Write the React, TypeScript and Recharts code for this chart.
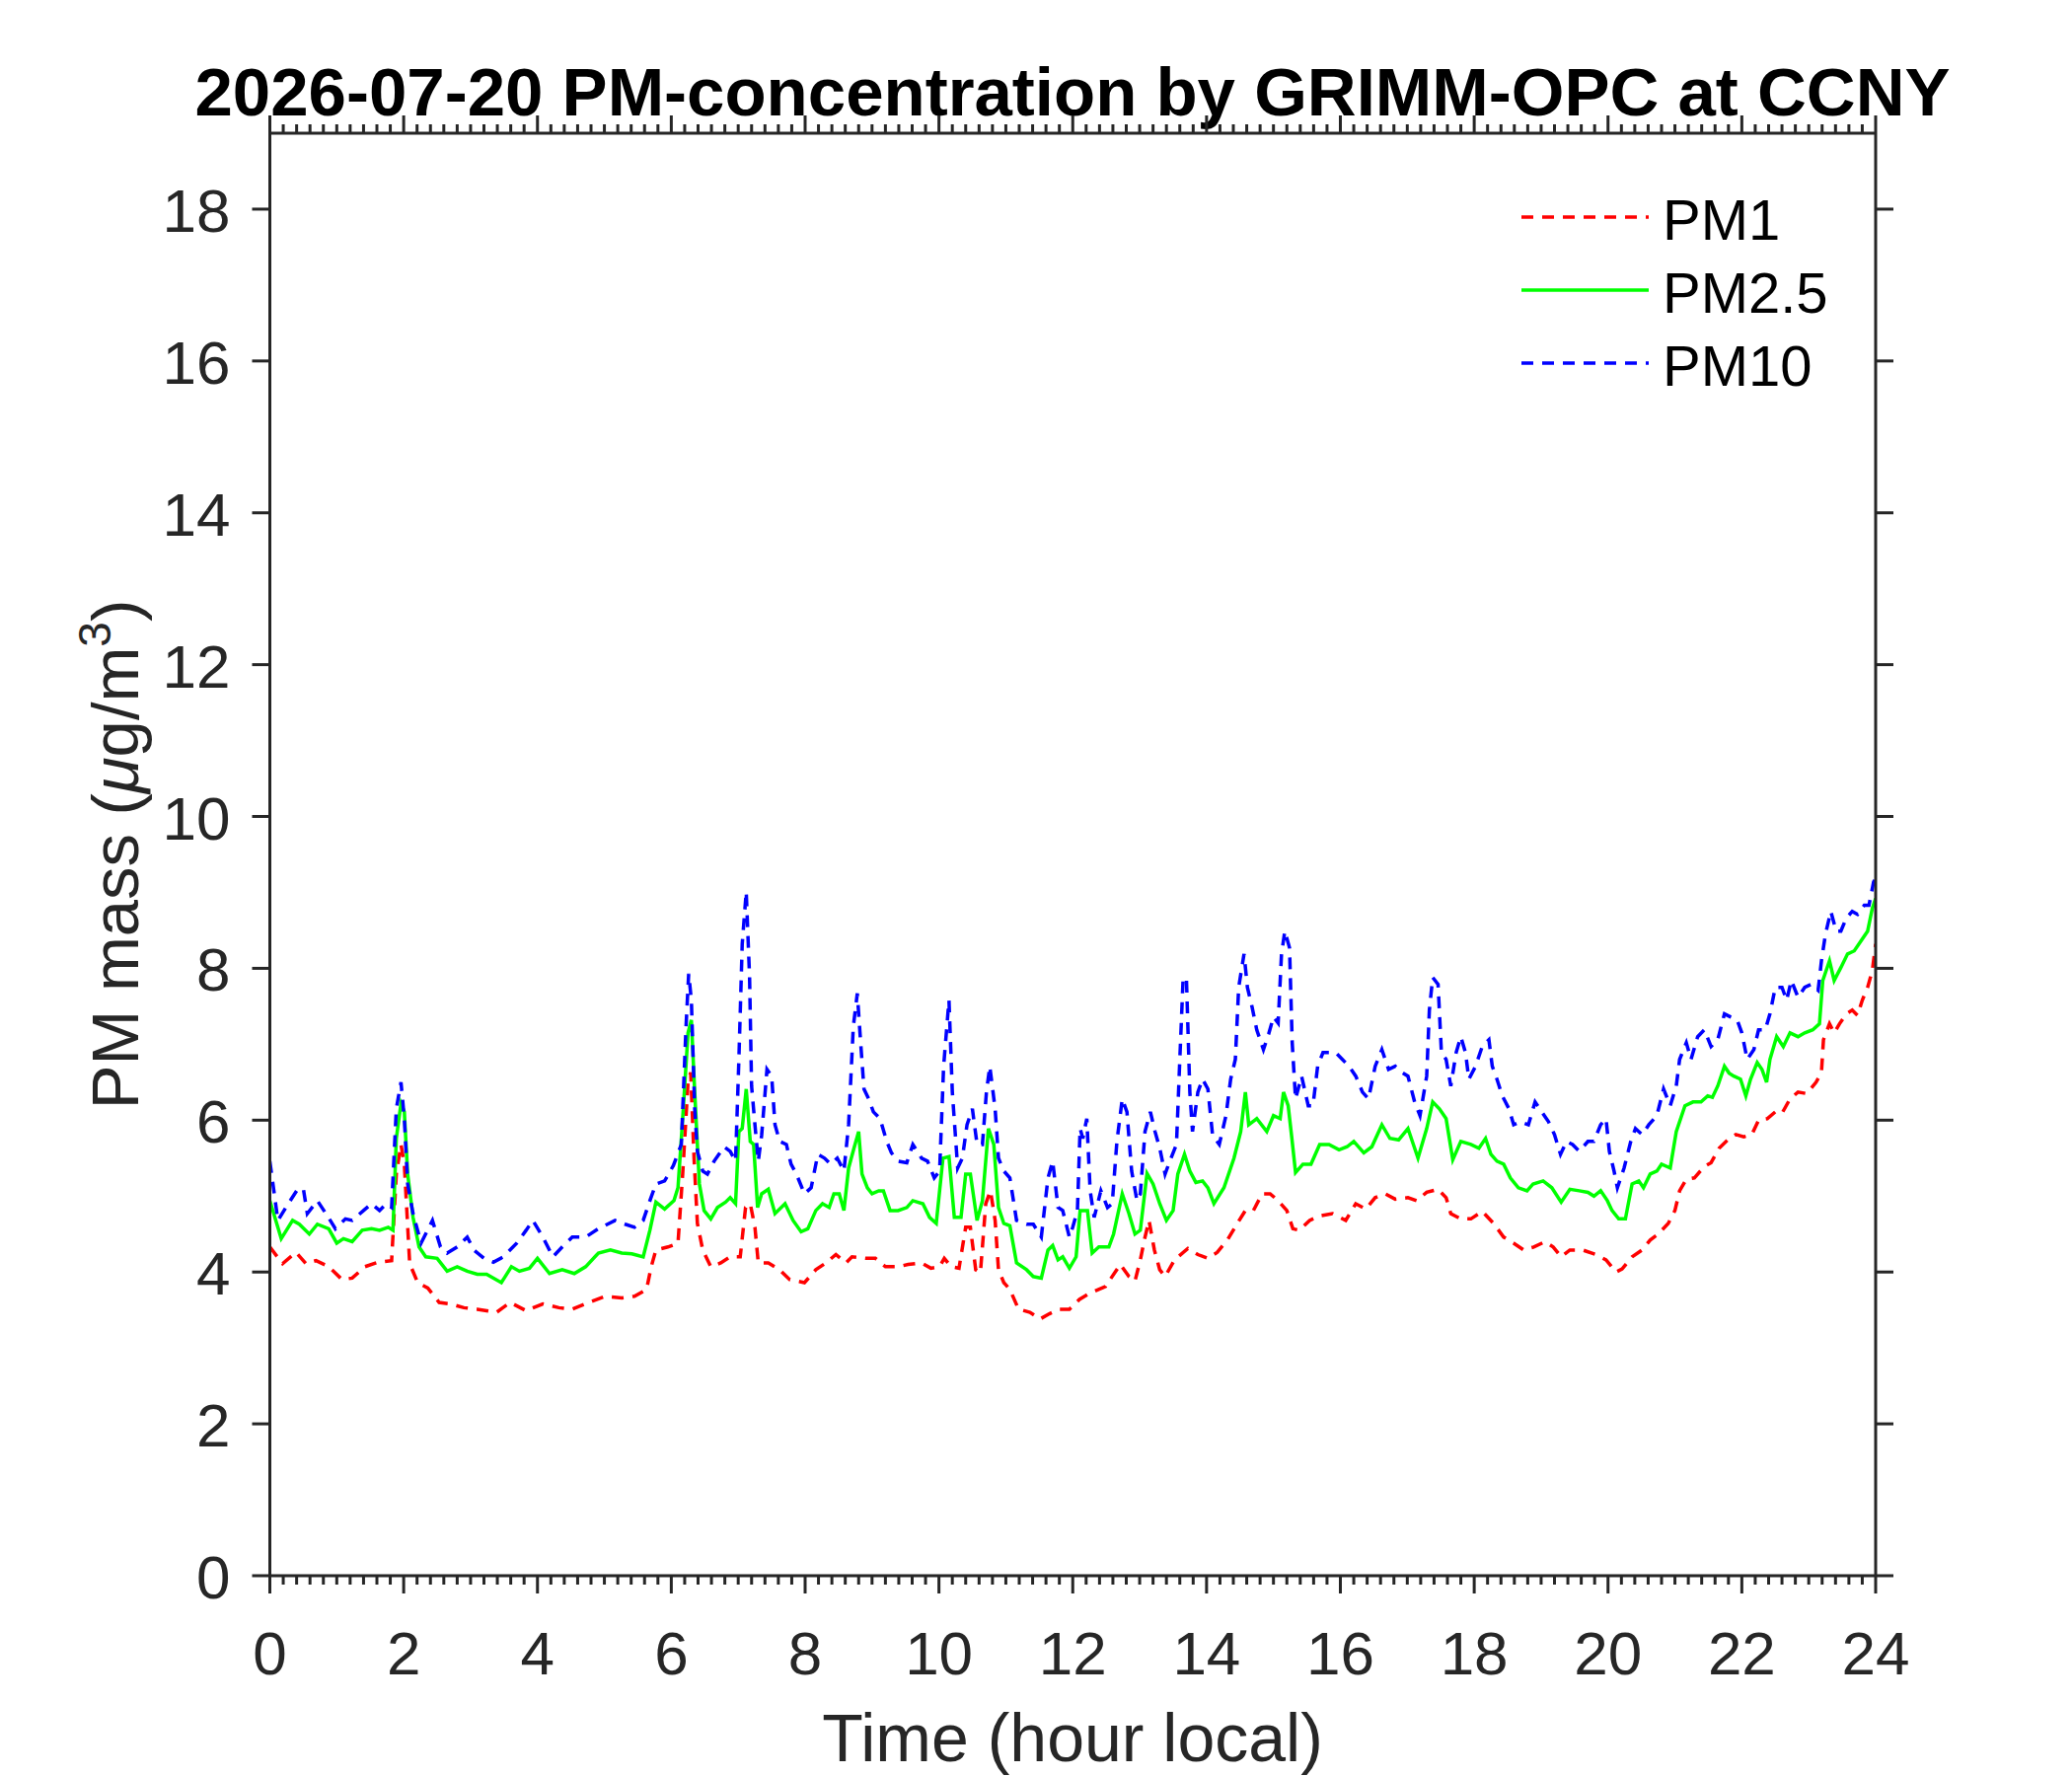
import { LineChart, Line, XAxis, YAxis, Legend, Customized } from 'recharts'

document.body.style.margin = '0'

const FONT = '"Liberation Sans", Arial, Helvetica, sans-serif'
const AXIS = '#262626'

const chartTitle = '2026-07-20 PM-concentration by GRIMM-OPC at CCNY'
const hourTicks = [0, 2, 4, 6, 8, 10, 12, 14, 16, 18, 20, 22, 24]
const massTicks = [0, 2, 4, 6, 8, 10, 12, 14, 16, 18]

const pm1Hours = [
    0, 0.19, 0.39, 0.54, 0.69, 0.88, 1.08, 1.23, 1.42, 1.62, 1.82, 1.89, 1.96, 2.01, 2.09, 2.21, 2.36, 2.53, 2.7, 2.9,
    3.1, 3.39, 3.59, 3.83, 4.08, 4.32, 4.52, 4.77, 5.01, 5.26, 5.45, 5.63, 5.7, 5.77, 5.95, 6.1, 6.17, 6.25, 6.29, 6.34,
    6.39, 6.47, 6.59, 6.74, 6.88, 7.03, 7.11, 7.18, 7.25, 7.3, 7.45, 7.62, 7.77, 7.99, 8.16, 8.31, 8.46, 8.61, 8.7, 8.9,
    9.05, 9.2, 9.39, 9.54, 9.74, 9.88, 10.01, 10.08, 10.18, 10.3, 10.4, 10.47, 10.55, 10.62, 10.7, 10.77, 10.84, 10.89, 10.97, 11.06,
    11.19, 11.36, 11.51, 11.65, 11.8, 11.95, 12.1, 12.25, 12.49, 12.71, 12.84, 12.93, 13.01, 13.08, 13.14, 13.22, 13.3, 13.38, 13.52, 13.72,
    13.87, 14.02, 14.16, 14.31, 14.46, 14.58, 14.7, 14.83, 14.95, 15.07, 15.2, 15.29, 15.39, 15.54, 15.69, 15.88, 16.08, 16.23, 16.38, 16.52,
    16.67, 16.82, 17.01, 17.14, 17.29, 17.46, 17.58, 17.65, 17.8, 17.95, 18.12, 18.29, 18.44, 18.59, 18.74, 18.89, 19.06, 19.18, 19.3, 19.43,
    19.62, 19.82, 19.97, 20.12, 20.21, 20.36, 20.51, 20.63, 20.75, 20.9, 21.0, 21.07, 21.17, 21.29, 21.44, 21.54, 21.66, 21.79, 21.91, 22.03,
    22.15, 22.25, 22.38, 22.5, 22.6, 22.72, 22.84, 22.97, 23.11, 23.19, 23.22, 23.31, 23.38, 23.46, 23.56, 23.65, 23.73, 23.8, 23.88, 23.95,
    24.0
]
const pm1Values = [
    4.33, 4.11, 4.26, 4.11, 4.15, 4.07, 3.9, 3.92, 4.07, 4.13, 4.15, 5.29, 5.68, 5.42, 4.11, 3.86, 3.79, 3.6, 3.58, 3.53,
    3.51, 3.47, 3.6, 3.49, 3.58, 3.53, 3.51, 3.6, 3.68, 3.66, 3.68, 3.77, 4.07, 4.29, 4.33, 4.38, 5.29, 6.5, 6.63, 5.5,
    4.64, 4.29, 4.07, 4.12, 4.2, 4.2, 4.85, 4.9, 4.59, 4.12, 4.12, 4.03, 3.9, 3.86, 4.03, 4.12, 4.23, 4.12, 4.2, 4.18,
    4.18, 4.07, 4.07, 4.1, 4.12, 4.05, 4.07, 4.18, 4.07, 4.05, 4.59, 4.59, 4.03, 3.99, 4.9, 5.07, 4.68, 4.03, 3.86, 3.77,
    3.51, 3.47, 3.38, 3.45, 3.51, 3.51, 3.64, 3.72, 3.81, 4.1, 3.94, 3.88, 4.16, 4.46, 4.68, 4.29, 4.03, 3.94, 4.16, 4.31,
    4.23, 4.18, 4.26, 4.42, 4.64, 4.81, 4.81, 5.03, 5.03, 4.94, 4.81, 4.57, 4.55, 4.68, 4.74, 4.77, 4.68, 4.9, 4.83, 4.98,
    5.03, 4.96, 4.98, 4.94, 5.05, 5.09, 4.98, 4.77, 4.7, 4.7, 4.8, 4.64, 4.46, 4.38, 4.29, 4.33, 4.4, 4.33, 4.2, 4.29,
    4.29, 4.23, 4.16, 4.0, 4.04, 4.2, 4.29, 4.42, 4.5, 4.64, 4.81, 5.07, 5.22, 5.24, 5.39, 5.44, 5.63, 5.74, 5.81, 5.78,
    5.81, 6.0, 6.02, 6.11, 6.09, 6.28, 6.37, 6.35, 6.5, 6.63, 7.06, 7.27, 7.15, 7.27, 7.4, 7.45, 7.38, 7.58, 7.75, 7.97,
    8.32
]

const pm25Hours = [
    0, 0.17, 0.34, 0.44, 0.59, 0.71, 0.88, 1.0, 1.1, 1.23, 1.38, 1.52, 1.64, 1.77, 1.84, 1.89, 1.96, 2.01, 2.06, 2.14,
    2.23, 2.33, 2.5, 2.65, 2.8, 2.95, 3.1, 3.24, 3.46, 3.61, 3.73, 3.88, 4.0, 4.18, 4.37, 4.55, 4.72, 4.91, 5.09, 5.26,
    5.41, 5.58, 5.68, 5.77, 5.9, 6.04, 6.1, 6.17, 6.25, 6.3, 6.35, 6.42, 6.49, 6.59, 6.69, 6.81, 6.88, 6.96, 7.01, 7.06,
    7.12, 7.18, 7.23, 7.29, 7.35, 7.45, 7.55, 7.7, 7.82, 7.94, 8.04, 8.16, 8.26, 8.36, 8.43, 8.51, 8.58, 8.65, 8.73, 8.8,
    8.85, 8.93, 9.0, 9.1, 9.17, 9.27, 9.39, 9.52, 9.61, 9.76, 9.86, 9.96, 10.06, 10.15, 10.23, 10.33, 10.4, 10.47, 10.57, 10.65,
    10.74, 10.82, 10.89, 10.97, 11.06, 11.16, 11.31, 11.41, 11.53, 11.63, 11.7, 11.78, 11.85, 11.95, 12.05, 12.11, 12.22, 12.29, 12.39, 12.54,
    12.61, 12.74, 12.84, 12.93, 13.01, 13.11, 13.2, 13.3, 13.4, 13.5, 13.57, 13.67, 13.75, 13.84, 13.94, 14.02, 14.11, 14.26, 14.41, 14.51,
    14.58, 14.63, 14.75, 14.9, 15.0, 15.1, 15.15, 15.22, 15.27, 15.33, 15.44, 15.56, 15.69, 15.83, 15.98, 16.1, 16.2, 16.35, 16.47, 16.62,
    16.74, 16.87, 17.01, 17.16, 17.29, 17.38, 17.48, 17.58, 17.68, 17.8, 17.95, 18.07, 18.17, 18.25, 18.34, 18.44, 18.54, 18.66, 18.79, 18.88,
    19.03, 19.16, 19.3, 19.43, 19.57, 19.7, 19.79, 19.89, 19.99, 20.06, 20.16, 20.26, 20.36, 20.46, 20.53, 20.63, 20.73, 20.8, 20.93, 21.02,
    21.15, 21.27, 21.39, 21.49, 21.56, 21.64, 21.74, 21.81, 21.88, 21.98, 22.06, 22.13, 22.23, 22.3, 22.37, 22.42, 22.52, 22.62, 22.72, 22.84,
    22.94, 23.06, 23.16, 23.21, 23.31, 23.38, 23.48, 23.58, 23.68, 23.78, 23.88, 23.95, 24.0
]
const pm25Values = [
    4.94, 4.44, 4.68, 4.63, 4.5, 4.63, 4.57, 4.38, 4.44, 4.4, 4.55, 4.57, 4.55, 4.59, 4.55, 5.76, 6.22, 6.11, 5.29, 4.72,
    4.33, 4.2, 4.18, 4.01, 4.07, 4.01, 3.97, 3.97, 3.86, 4.07, 4.01, 4.05, 4.18, 3.98, 4.03, 3.98, 4.07, 4.25, 4.29, 4.25,
    4.24, 4.2, 4.55, 4.92, 4.83, 4.94, 5.11, 6.02, 7.15, 7.32, 6.37, 5.16, 4.81, 4.7, 4.85, 4.92, 4.98, 4.9, 5.85, 5.89,
    6.41, 5.72, 5.68, 4.85, 5.03, 5.09, 4.77, 4.9, 4.68, 4.53, 4.57, 4.81, 4.9, 4.85, 5.03, 5.03, 4.81, 5.37, 5.63, 5.85,
    5.29, 5.11, 5.03, 5.07, 5.07, 4.81, 4.81, 4.85, 4.94, 4.9, 4.72, 4.64, 5.5, 5.52, 4.72, 4.72, 5.29, 5.29, 4.68, 4.94,
    5.89, 5.68, 4.85, 4.64, 4.61, 4.12, 4.03, 3.94, 3.92, 4.29, 4.35, 4.16, 4.2, 4.05, 4.2, 4.81, 4.81, 4.25, 4.33, 4.33,
    4.5, 5.03, 4.77, 4.5, 4.55, 5.3, 5.16, 4.9, 4.68, 4.81, 5.29, 5.55, 5.33, 5.18, 5.2, 5.11, 4.9, 5.11, 5.5, 5.85,
    6.37, 5.94, 6.02, 5.85, 6.06, 6.02, 6.37, 6.19, 5.8, 5.31, 5.42, 5.42, 5.68, 5.68, 5.61, 5.65, 5.72, 5.57, 5.65, 5.94,
    5.76, 5.74, 5.89, 5.5, 5.89, 6.24, 6.15, 6.02, 5.48, 5.72, 5.68, 5.63, 5.76, 5.55, 5.46, 5.42, 5.24, 5.11, 5.07, 5.16,
    5.2, 5.11, 4.92, 5.09, 5.07, 5.05, 5.0, 5.07, 4.94, 4.81, 4.7, 4.7, 5.16, 5.2, 5.11, 5.29, 5.33, 5.42, 5.37, 5.85,
    6.19, 6.24, 6.24, 6.32, 6.3, 6.45, 6.71, 6.62, 6.58, 6.54, 6.32, 6.54, 6.76, 6.67, 6.5, 6.8, 7.1, 6.97, 7.15, 7.1,
    7.15, 7.19, 7.27, 7.84, 8.1, 7.84, 8.01, 8.19, 8.23, 8.36, 8.49, 8.79, 8.92
]

const pm10Hours = [
    0, 0.12, 0.24, 0.4, 0.5, 0.56, 0.71, 0.86, 0.98, 1.13, 1.23, 1.4, 1.52, 1.64, 1.74, 1.82, 1.89, 1.96, 2.01, 2.06,
    2.14, 2.26, 2.43, 2.55, 2.65, 2.8, 2.95, 3.05, 3.2, 3.34, 3.49, 3.69, 3.83, 3.93, 4.08, 4.23, 4.37, 4.52, 4.72, 4.91,
    5.16, 5.31, 5.45, 5.58, 5.68, 5.77, 5.9, 6.03, 6.15, 6.22, 6.26, 6.3, 6.35, 6.39, 6.47, 6.54, 6.64, 6.79, 6.88, 6.96,
    7.01, 7.06, 7.12, 7.17, 7.2, 7.25, 7.3, 7.35, 7.43, 7.5, 7.55, 7.62, 7.72, 7.79, 7.87, 7.99, 8.09, 8.19, 8.29, 8.38,
    8.48, 8.58, 8.65, 8.72, 8.78, 8.83, 8.88, 8.95, 9.02, 9.12, 9.22, 9.29, 9.39, 9.52, 9.61, 9.74, 9.83, 9.93, 10.01, 10.07,
    10.15, 10.2, 10.28, 10.35, 10.42, 10.5, 10.57, 10.65, 10.71, 10.76, 10.84, 10.89, 10.97, 11.06, 11.16, 11.31, 11.41, 11.53, 11.63, 11.7,
    11.78, 11.85, 11.95, 12.0, 12.07, 12.11, 12.15, 12.21, 12.26, 12.32, 12.42, 12.52, 12.59, 12.66, 12.74, 12.81, 12.88, 12.96, 13.01, 13.08,
    13.16, 13.23, 13.3, 13.38, 13.45, 13.55, 13.6, 13.65, 13.7, 13.75, 13.79, 13.87, 13.94, 14.02, 14.09, 14.19, 14.29, 14.36, 14.43, 14.48,
    14.56, 14.61, 14.68, 14.75, 14.85, 14.93, 15.0, 15.07, 15.12, 15.17, 15.24, 15.28, 15.33, 15.42, 15.52, 15.59, 15.66, 15.74, 15.83, 15.93,
    16.03, 16.13, 16.23, 16.33, 16.42, 16.52, 16.62, 16.72, 16.82, 16.92, 17.01, 17.11, 17.19, 17.29, 17.33, 17.38, 17.46, 17.51, 17.58, 17.65,
    17.73, 17.8, 17.87, 17.92, 18.02, 18.12, 18.22, 18.27, 18.34, 18.42, 18.52, 18.59, 18.69, 18.81, 18.91, 19.01, 19.11, 19.2, 19.29, 19.38,
    19.47, 19.57, 19.7, 19.79, 19.89, 19.97, 20.02, 20.09, 20.14, 20.24, 20.34, 20.41, 20.51, 20.61, 20.73, 20.83, 20.93, 21.02, 21.07, 21.17,
    21.24, 21.34, 21.44, 21.54, 21.64, 21.74, 21.83, 21.93, 22.0, 22.08, 22.18, 22.25, 22.35, 22.42, 22.5, 22.6, 22.67, 22.74, 22.84, 22.94,
    23.04, 23.14, 23.19, 23.25, 23.33, 23.41, 23.48, 23.56, 23.65, 23.73, 23.83, 23.9, 23.97, 24.0
]
const pm10Values = [
    5.46, 4.68, 4.85, 5.07, 5.1, 4.77, 4.94, 4.74, 4.57, 4.7, 4.68, 4.81, 4.9, 4.81, 4.9, 4.85, 6.15, 6.5, 6.02, 5.16,
    4.77, 4.38, 4.68, 4.33, 4.25, 4.33, 4.46, 4.29, 4.18, 4.13, 4.2, 4.38, 4.55, 4.68, 4.46, 4.2, 4.33, 4.46, 4.46, 4.57,
    4.68, 4.63, 4.59, 4.68, 4.94, 5.16, 5.2, 5.4, 5.68, 7.23, 7.93, 7.58, 6.15, 5.59, 5.33, 5.29, 5.46, 5.65, 5.59, 5.46,
    6.8, 8.32, 9.01, 7.88, 6.45, 5.94, 5.46, 5.8, 6.67, 6.58, 5.94, 5.72, 5.68, 5.42, 5.29, 5.03, 5.11, 5.55, 5.5, 5.42,
    5.5, 5.33, 5.94, 7.23, 7.67, 7.02, 6.41, 6.28, 6.11, 6.02, 5.72, 5.57, 5.46, 5.44, 5.68, 5.5, 5.46, 5.24, 5.33, 6.71,
    7.58, 6.37, 5.37, 5.5, 5.94, 6.15, 5.68, 5.68, 6.37, 6.71, 6.15, 5.5, 5.33, 5.24, 4.68, 4.63, 4.63, 4.46, 5.24, 5.46,
    4.85, 4.81, 4.46, 4.59, 4.81, 5.89, 5.76, 6.02, 5.07, 4.72, 5.07, 4.85, 4.9, 5.72, 6.28, 6.11, 5.33, 4.94, 5.03, 5.85,
    6.11, 5.85, 5.63, 5.29, 5.46, 5.68, 6.8, 7.88, 7.84, 6.37, 5.85, 6.37, 6.54, 6.41, 5.8, 5.68, 6.06, 6.54, 6.8, 7.75,
    8.19, 7.75, 7.49, 7.19, 6.93, 7.14, 7.36, 7.28, 8.19, 8.49, 8.27, 7.02, 6.28, 6.58, 6.19, 6.19, 6.71, 6.89, 6.89, 6.89,
    6.8, 6.71, 6.58, 6.37, 6.28, 6.71, 6.93, 6.67, 6.71, 6.63, 6.58, 6.24, 6.06, 6.58, 7.45, 7.88, 7.79, 6.89, 6.8, 6.45,
    6.89, 7.1, 6.89, 6.54, 6.71, 6.97, 7.06, 6.71, 6.54, 6.32, 6.15, 5.94, 5.98, 5.94, 6.24, 6.11, 5.98, 5.81, 5.55, 5.72,
    5.68, 5.59, 5.72, 5.72, 5.94, 6.02, 5.59, 5.33, 5.11, 5.37, 5.72, 5.89, 5.81, 5.94, 6.06, 6.41, 6.19, 6.45, 6.8, 7.02,
    6.8, 7.1, 7.19, 6.97, 7.06, 7.4, 7.36, 7.32, 7.15, 6.8, 6.93, 7.19, 7.19, 7.4, 7.75, 7.75, 7.58, 7.84, 7.62, 7.75,
    7.79, 7.71, 8.1, 8.45, 8.75, 8.49, 8.49, 8.66, 8.75, 8.71, 8.83, 8.83, 9.14, 9.18
]

const toPoints = (hours: number[], values: number[]) => hours.map((t, i) => ({ t, v: values[i] }))

const series = [
    { name: 'PM1', color: '#ff0000', dash: '12 9', data: toPoints(pm1Hours, pm1Values) },
    { name: 'PM2.5', color: '#00ff00', dash: undefined, data: toPoints(pm25Hours, pm25Values) },
    { name: 'PM10', color: '#0000ff', dash: '12 9', data: toPoints(pm10Hours, pm10Values) }
]

// minor ticks every 0.2 h, labelled majors every 2 h
const minorHourTicks = Array.from({ length: 121 }, (_, i) => Math.round(i * 2) / 10)
const isMajor = (v: number) => Math.abs(v / 2 - Math.round(v / 2)) < 1e-6

const BottomTick = ({ x, y, payload }: any) => {
    const major = isMajor(payload.value)
    return (
        <g>
            <line x1={x} y1={y} x2={x} y2={y + (major ? 18 : 9)} stroke={AXIS} strokeWidth={3} />
            {major && (
                <text x={x} y={y + 100} textAnchor="middle" fontSize={62} fontFamily={FONT} fill={AXIS}>
                    {Math.round(payload.value)}
                </text>
            )}
        </g>
    )
}

const TopTick = ({ x, y, payload }: any) => {
    const major = isMajor(payload.value)
    return <line x1={x} y1={y} x2={x} y2={y - (major ? 18 : 9)} stroke={AXIS} strokeWidth={3} />
}

const LeftTick = ({ x, y, payload }: any) => (
    <g>
        <line x1={x} y1={y} x2={x - 18} y2={y} stroke={AXIS} strokeWidth={3} />
        <text x={x - 40} y={y + 23} textAnchor="end" fontSize={62} fontFamily={FONT} fill={AXIS}>
            {payload.value}
        </text>
    </g>
)

const RightTick = ({ x, y }: any) => <line x1={x} y1={y} x2={x + 18} y2={y} stroke={AXIS} strokeWidth={3} />

const LegendBox = () => (
    <svg width={420} height={240}>
        {series.map((s, i) => (
            <g key={s.name}>
                <line
                    x1={22}
                    x2={151}
                    y1={50 + i * 74}
                    y2={50 + i * 74}
                    stroke={s.color}
                    strokeWidth={3.5}
                    strokeDasharray={s.dash}
                />
                <text x={165} y={73 + i * 74} fontSize={58} fontFamily={FONT} fill="#000">
                    {s.name}
                </text>
            </g>
        ))}
    </svg>
)

const Labels = () => (
    <g fontFamily={FONT}>
        <text x={1087} y={117} textAnchor="middle" fontSize={69} fontWeight="bold" fill="#000">
            {chartTitle}
        </text>
        <text x={1087} y={1785} textAnchor="middle" fontSize={68} fill={AXIS}>
            Time (hour local)
        </text>
        <text transform="rotate(-90)" x={-866} y={140} textAnchor="middle" fontSize={67} fill={AXIS}>
            PM mass (<tspan fontStyle="italic">μ</tspan>g/m
            <tspan dy={-28} fontSize={46}>3</tspan>
            <tspan dy={28}>)</tspan>
        </text>
    </g>
)

export default function App() {
    return (
        <div style={{ width: 2100, height: 1800, background: '#fff', position: 'relative' }}>
            <LineChart
                width={2100}
                height={1800}
                margin={{ top: 115, right: 179, bottom: 103, left: 173.5 }}
                style={{ background: '#fff' }}
            >
                <XAxis
                    xAxisId="bottom"
                    dataKey="t"
                    type="number"
                    domain={[0, 24]}
                    allowDataOverflow
                    ticks={minorHourTicks}
                    interval={0}
                    height={100}
                    tickSize={0}
                    tickMargin={0}
                    tickLine={false}
                    tick={<BottomTick />}
                    axisLine={{ stroke: AXIS, strokeWidth: 3 }}
                />
                <XAxis
                    xAxisId="top"
                    orientation="top"
                    dataKey="t"
                    type="number"
                    domain={[0, 24]}
                    allowDataOverflow
                    ticks={minorHourTicks}
                    interval={0}
                    height={20}
                    tickSize={0}
                    tickMargin={0}
                    tickLine={false}
                    tick={<TopTick />}
                    axisLine={{ stroke: AXIS, strokeWidth: 3 }}
                />
                <YAxis
                    yAxisId="left"
                    type="number"
                    domain={[0, 19]}
                    allowDataOverflow
                    ticks={massTicks}
                    interval={0}
                    width={100}
                    tickSize={0}
                    tickMargin={0}
                    tickLine={false}
                    tick={<LeftTick />}
                    axisLine={{ stroke: AXIS, strokeWidth: 3 }}
                />
                <YAxis
                    yAxisId="right"
                    orientation="right"
                    type="number"
                    domain={[0, 19]}
                    allowDataOverflow
                    ticks={massTicks}
                    interval={0}
                    width={20}
                    tickSize={0}
                    tickMargin={0}
                    tickLine={false}
                    tick={<RightTick />}
                    axisLine={{ stroke: AXIS, strokeWidth: 3 }}
                />
                {series.map((s) => (
                    <Line
                        key={s.name}
                        xAxisId="bottom"
                        yAxisId="left"
                        data={s.data}
                        dataKey="v"
                        name={s.name}
                        type="linear"
                        stroke={s.color}
                        strokeWidth={3.5}
                        strokeDasharray={s.dash}
                        dot={false}
                        activeDot={false}
                        isAnimationActive={false}
                    />
                ))}
                <Legend
                    layout="vertical"
                    align="center"
                    verticalAlign="middle"
                    content={<LegendBox />}
                    wrapperStyle={{ position: 'absolute', left: 1520, top: 170, width: 420, height: 240 }}
                />
                <Customized component={<Labels />} />
            </LineChart>
        </div>
    )
}
